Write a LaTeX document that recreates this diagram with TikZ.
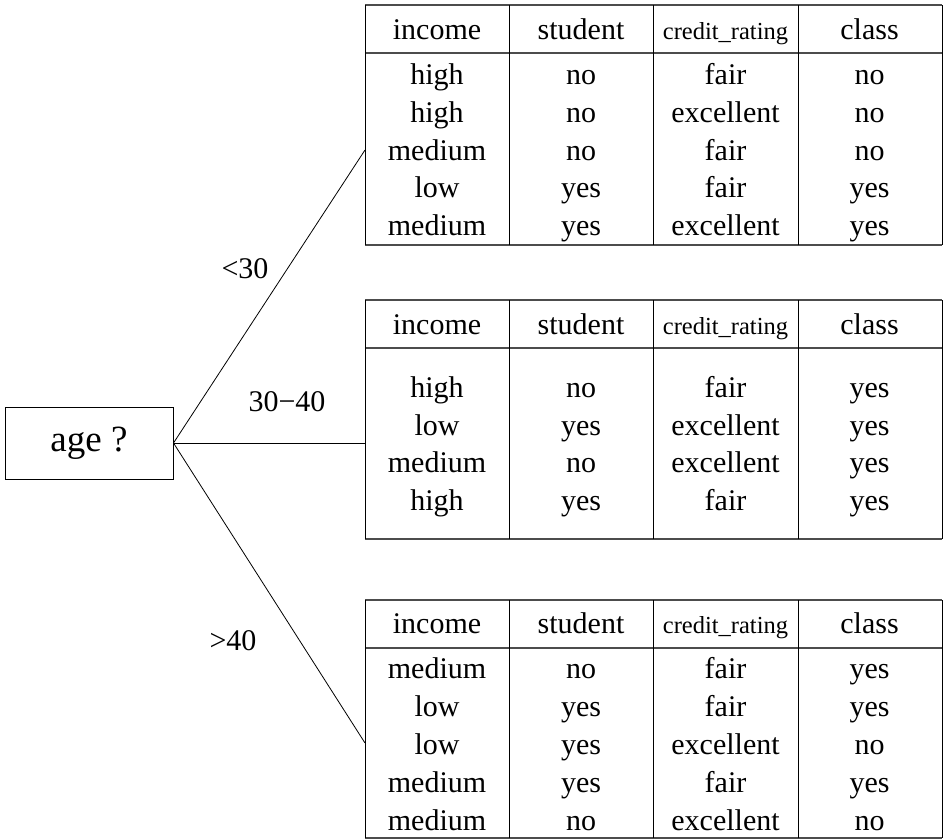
\documentclass[tikz,border=0pt]{standalone}
\usepackage{fontspec}
\setmainfont{Liberation Serif}
\tikzset{%
  cell/.style     = {font=\fontsize{30}{36}\selectfont, inner sep=0pt,%
                     text height=21pt, text depth=0pt},%
  smallcell/.style = {cell, font=\fontsize{24.5}{29}\selectfont},%
  hrule/.style    = {line width=1.4pt, draw=black!70},%
  vrule/.style    = {line width=0.9pt},%
  branch/.style   = {line width=0.8pt},%
  tag/.style      = {font=\fontsize{30}{36}\selectfont, inner sep=0pt},%
  decision/.style = {rectangle, draw, line width=1pt, minimum width=168pt,%
                     minimum height=72pt, font=\fontsize{37}{44}\selectfont}%
}
\begin{document}
\begin{tikzpicture}[x=1pt,y=-1pt]
	\useasboundingbox (0,0) rectangle (943,839);
	% root of the tree
	\node [decision] (age) at (89,443) {age ?};
	\coordinate (young) at (365,150);
	\coordinate (middle) at (365,443);
	\coordinate (senior) at (365,743);
	\draw [branch] (age.east) -- (young);
	\draw [branch] (age.east) -- (middle);
	\draw [branch] (age.east) -- (senior);
	\node [tag] (ly) at (245,269) {<30};
	\node [tag] (lm) at (287,402) {30−40};
	\node [tag] (ls) at (233,641) {>40};
	% table for <30
	\begin{scope}
		\foreach \y in {5,53,245} \draw [hrule] (365,\y) -- (942,\y);
		\foreach \x in {365,509,653,798,942} \draw [vrule] (\x,5) -- (\x,245);
		\node [cell] (ya) at (437,29) {income};
		\node [cell] (yb) at (581,29) {student};
		\node [smallcell] (yc) at (725.5,29) {credit\_rating};
		\node [cell] (yd) at (869.5,29) {class};
		\foreach \a/\b/\c/\d [count=\i] in {high/no/fair/no,high/no/excellent/no,%
				medium/no/fair/no,low/yes/fair/yes,medium/yes/excellent/yes}{
			\node [cell] (ya\i) at (437,{36.25+37.75*\i}) {\a};
			\node [cell] (yb\i) at (581,{36.25+37.75*\i}) {\b};
			\node [cell] (yc\i) at (725.5,{36.25+37.75*\i}) {\c};
			\node [cell] (yd\i) at (869.5,{36.25+37.75*\i}) {\d};
		}
	\end{scope}
	% table for 30-40
	\begin{scope}
		\foreach \y in {300,348,539} \draw [hrule] (365,\y) -- (942,\y);
		\foreach \x in {365,509,653,798,942} \draw [vrule] (\x,300) -- (\x,539);
		\node [cell] (ma) at (437,324) {income};
		\node [cell] (mb) at (581,324) {student};
		\node [smallcell] (mc) at (725.5,324) {credit\_rating};
		\node [cell] (md) at (869.5,324) {class};
		\foreach \a/\b/\c/\d [count=\i] in {high/no/fair/yes,low/yes/excellent/yes,%
				medium/no/excellent/yes,high/yes/fair/yes}{
			\node [cell] (ma\i) at (437,{349.3+37.7*\i}) {\a};
			\node [cell] (mb\i) at (581,{349.3+37.7*\i}) {\b};
			\node [cell] (mc\i) at (725.5,{349.3+37.7*\i}) {\c};
			\node [cell] (md\i) at (869.5,{349.3+37.7*\i}) {\d};
		}
	\end{scope}
	% table for >40
	\begin{scope}
		\foreach \y in {600,648,838} \draw [hrule] (365,\y) -- (942,\y);
		\foreach \x in {365,509,653,798,942} \draw [vrule] (\x,600) -- (\x,838);
		\node [cell] (sa) at (437,623) {income};
		\node [cell] (sb) at (581,623) {student};
		\node [smallcell] (sc) at (725.5,623) {credit\_rating};
		\node [cell] (sd) at (869.5,623) {class};
		\foreach \a/\b/\c/\d [count=\i] in {medium/no/fair/yes,low/yes/fair/yes,%
				low/yes/excellent/no,medium/yes/fair/yes,medium/no/excellent/no}{
			\node [cell] (sa\i) at (437,{630+38*\i}) {\a};
			\node [cell] (sb\i) at (581,{630+38*\i}) {\b};
			\node [cell] (sc\i) at (725.5,{630+38*\i}) {\c};
			\node [cell] (sd\i) at (869.5,{630+38*\i}) {\d};
		}
	\end{scope}
\end{tikzpicture}
\end{document}
